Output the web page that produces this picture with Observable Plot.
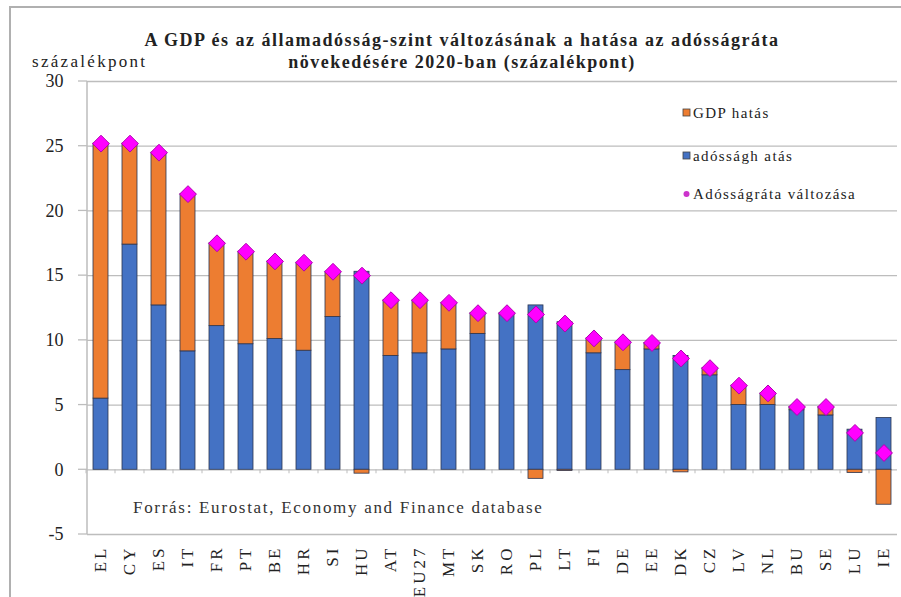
<!DOCTYPE html>
<html>
<head>
<meta charset="utf-8">
<script src="https://cdn.jsdelivr.net/npm/d3@7"></script>
<script src="https://cdn.jsdelivr.net/npm/@observablehq/plot@0.6"></script>
<style>
  html, body { margin: 0; padding: 0; background: #fff; }
  #chart svg { display: block; }
  #chart svg text { font-family: 'Liberation Serif', 'DejaVu Serif', serif; }
</style>
</head>
<body>
<div id="chart"></div>
<script>
const countries = ["EL","CY","ES","IT","FR","PT","BE","HR","SI","HU","AT","EU27","MT","SK","RO","PL","LT","FI","DE","EE","DK","CZ","LV","NL","BU","SE","LU","IE"];
const debtEffect = [5.5,17.4,12.7,9.15,11.1,9.7,10.1,9.2,11.8,15.3,8.8,9.0,9.3,10.5,12.0,12.7,11.4,9.0,7.7,9.3,8.8,7.3,5.0,5.0,4.6,4.2,3.1,4.0];
const gdpEffect = [19.7,7.8,11.8,12.15,6.4,7.15,6.0,6.8,3.5,-0.3,4.3,4.1,3.6,1.6,0.1,-0.7,-0.1,1.15,2.15,0.5,-0.2,0.55,1.5,0.9,0.25,0.65,-0.25,-2.7];
const ratioChange = [25.2,25.2,24.5,21.3,17.5,16.85,16.1,16.0,15.3,15.0,13.1,13.1,12.9,12.1,12.1,12.0,11.3,10.15,9.85,9.8,8.6,7.85,6.5,5.9,4.85,4.85,2.85,1.3];
const yTicks = [-5,0,5,10,15,20,25,30];
const seriesNames = ["adósságh atás", "GDP hatás"];
const legendLabels = ["GDP hatás", "adósságh atás", "Adósságráta változása"];
const titleLines = ["A GDP és az államadósság-szint változásának a hatása az adósságráta", "növekedésére 2020-ban (százalékpont)"];
const yLabel = "százalékpont";
const source = "Forrás: Eurostat, Economy and Finance database";

const barRows = [];
countries.forEach((c, i) => {
  barRows.push({country: c, series: seriesNames[0], value: debtEffect[i]});
  barRows.push({country: c, series: seriesNames[1], value: gdpEffect[i]});
});
const dotRows = countries.map((c, i) => ({country: c, value: ratioChange[i]}));

const serif = "'Liberation Serif', 'DejaVu Serif', serif";
const BLUE = "#4472c4", ORANGE = "#ed7d31", GRID = "#bdbdbd";

const plot = Plot.plot({
  width: 901,
  height: 597,
  marginLeft: 87,
  marginRight: 4,
  marginTop: 81,
  marginBottom: 63,
  style: {fontFamily: serif, background: "#fff"},
  x: {domain: countries, paddingInner: 0.5, paddingOuter: 0.17, label: null},
  y: {domain: [-5, 30], label: null},
  color: {domain: seriesNames, range: [BLUE, ORANGE]},
  marks: [
    Plot.ruleY(yTicks, {stroke: GRID, strokeWidth: 1.3, strokeOpacity: 1}),
    Plot.axisY({ticks: yTicks, tickFormat: d => String(d), tickSize: 0, tickPadding: 24, fontSize: 18, fontFamily: serif, fill: "#222", label: null}),
    Plot.axisX({tickSize: 0, tickPadding: 11, tickRotate: -90, fontSize: 17, fontFamily: serif, fill: "#222", label: null}),
    Plot.barY(barRows, Plot.stackY({x: "country", y: "value", fill: "series", stroke: "#2b3550", strokeWidth: 0.8})),
    Plot.dot(dotRows, {x: "country", y: "value", symbol: "diamond2", r: 7.6, fill: "#ff00ff", stroke: "#b000b0", strokeWidth: 1})
  ]
});

const svg = d3.select(plot);
const xs = plot.scale("x");
const ys = plot.scale("y");
const left = 87;

// stretch the category labels like the reference
svg.selectAll("text").filter(function() { return countries.includes(this.textContent); })
  .attr("letter-spacing", 3).style("letter-spacing", "3px");

// outer frame
svg.insert("rect", ":first-child")
  .attr("x", 10).attr("y", 7).attr("width", 901).attr("height", 620)
  .attr("fill", "none").attr("stroke", "#b0b0b0").attr("stroke-width", 2);

// left tick marks extend grid
yTicks.forEach(t => {
  svg.append("line").attr("x1", 78).attr("x2", left).attr("y1", ys.apply(t)).attr("y2", ys.apply(t))
    .attr("stroke", GRID).attr("stroke-width", 1.3);
});
// left axis line
svg.append("line").attr("x1", left).attr("x2", left).attr("y1", ys.apply(30)).attr("y2", ys.apply(-5))
  .attr("stroke", GRID).attr("stroke-width", 1.5);
// small category ticks at zero line
const step = xs.step;
countries.forEach((c) => {
  const xb = xs.apply(c) - (step - xs.bandwidth) / 2;
  svg.append("line").attr("x1", xb).attr("x2", xb).attr("y1", ys.apply(0)).attr("y2", ys.apply(0) + 4)
    .attr("stroke", GRID).attr("stroke-width", 1);
});

function addText(x, y, str, opts = {}) {
  return svg.append("text").attr("x", x).attr("y", y)
    .attr("text-anchor", opts.anchor || "start")
    .attr("font-family", serif).attr("font-size", opts.size || 14)
    .attr("font-weight", opts.weight || "normal")
    .attr("letter-spacing", opts.spacing || 0)
    .attr("fill", opts.fill || "#222").text(str);
}

// title
titleLines.forEach((t, i) => addText(462, 46 + i * 22, t, {anchor: "middle", size: 18, weight: "bold", spacing: 1.5}));
addText(32, 67, yLabel, {size: 17, spacing: 2.3});

// legend
const legY = [113, 156, 194];
const legColors = [ORANGE, BLUE];
legendLabels.forEach((l, i) => {
  if (i < 2) {
    svg.append("rect").attr("x", 683).attr("y", legY[i] - 4).attr("width", 7).attr("height", 7)
      .attr("fill", legColors[i]).attr("stroke", "#444").attr("stroke-width", 0.8);
  } else {
    svg.append("circle").attr("cx", 686.5).attr("cy", legY[i]).attr("r", 3).attr("fill", "#cc33cc");
  }
  addText(693, legY[i] + 5, l, {size: 15, spacing: 1.4});
});

// source
addText(133, 513, source, {size: 17, fill: "#333", spacing: 1.7});

document.getElementById("chart").appendChild(plot);
</script>
</body>
</html>
